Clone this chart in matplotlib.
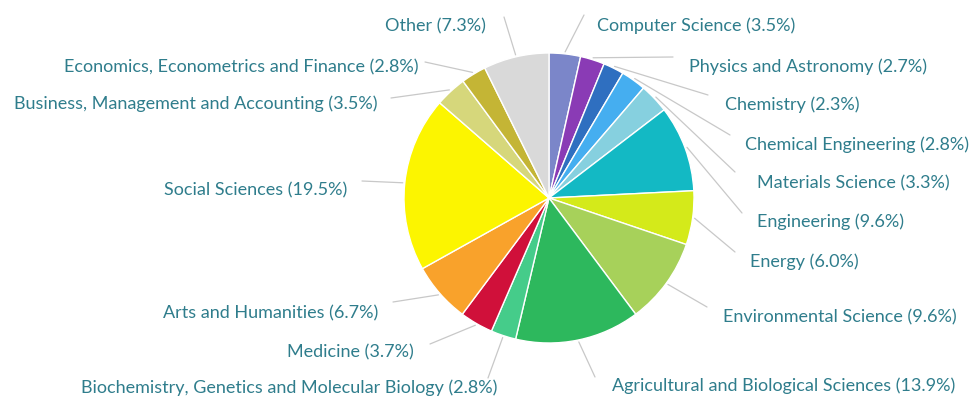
import numpy as np
import matplotlib.pyplot as plt

# subject areas, clockwise from 12 o'clock
areas = ['Computer Science', 'Physics and Astronomy', 'Chemistry',
         'Chemical Engineering', 'Materials Science', 'Engineering', 'Energy',
         'Environmental Science', 'Agricultural and Biological Sciences',
         'Biochemistry, Genetics and Molecular Biology', 'Medicine',
         'Arts and Humanities', 'Social Sciences',
         'Business, Management and Accounting',
         'Economics, Econometrics and Finance', 'Other']
share = [3.5, 2.7, 2.3, 2.8, 3.3, 9.6, 6.0, 9.6, 13.9, 2.8, 3.7, 6.7, 19.5,
         3.5, 2.8, 7.3]
colors = ['#7b86c9', '#8a3bb5', '#2f6fc0', '#45aef0', '#86d0df', '#13b9c4',
          '#d4ea1a', '#a7d15a', '#2db85d', '#45cc8a', '#d0103a', '#f9a22b',
          '#fcf500', '#d6d77b', '#c4b535', '#d9d9d9']

W, H = 976, 401
# label layout in pixels (x, y centre, alignment) and connector end points
lab_pos = [(597, 26, 'left'), (689, 67, 'left'), (725, 105, 'left'),
           (745, 145, 'left'), (757, 183, 'left'), (757, 222, 'left'),
           (750, 262, 'left'), (723, 317, 'left'), (612, 386, 'left'),
           (497, 388, 'right'), (414, 352, 'right'), (378, 313, 'right'),
           (347, 190, 'right'), (378, 104, 'right'), (418, 67, 'right'),
           (486, 26, 'right')]
conn_end = [(584, 15), (673, 57), (708, 95), (730, 135), (735, 172),
            (742, 213), (735, 252), (707, 307), (595, 377), (488, 378),
            (430, 344), (393, 302), (362, 181), (391, 98), (425, 62),
            (504, 17)]

fig = plt.figure(figsize=(W / 100, H / 100), dpi=100)
ax = fig.add_axes([0, 0, 1, 1])

cx, cy, r = 549, H - 198, 145
wedges, _ = ax.pie(share, colors=colors, startangle=90, counterclock=False,
                   center=(cx, cy), radius=r, frame=True,
                   wedgeprops=dict(edgecolor='white', linewidth=1))
ax.set_xlim(0, W)
ax.set_ylim(0, H)
ax.set_aspect('equal')
ax.axis('off')

txt_col = '#2f7d8c'
for i, w in enumerate(wedges):
    mid = np.deg2rad((w.theta1 + w.theta2) / 2)
    x0 = cx + (r + 2) * np.cos(mid)
    y0 = cy + (r + 2) * np.sin(mid)
    ex, ey = conn_end[i]
    ax.plot([x0, ex], [y0, H - ey], color='#c8c8c8', lw=0.9,
            solid_capstyle='round')
    lx, ly, ha = lab_pos[i]
    ax.text(lx, H - ly, f'{areas[i]} ({share[i]:.1f}%)', ha=ha, va='center',
            fontsize=13, family='Lato', color=txt_col)

fig.savefig('out.png', dpi=100)
